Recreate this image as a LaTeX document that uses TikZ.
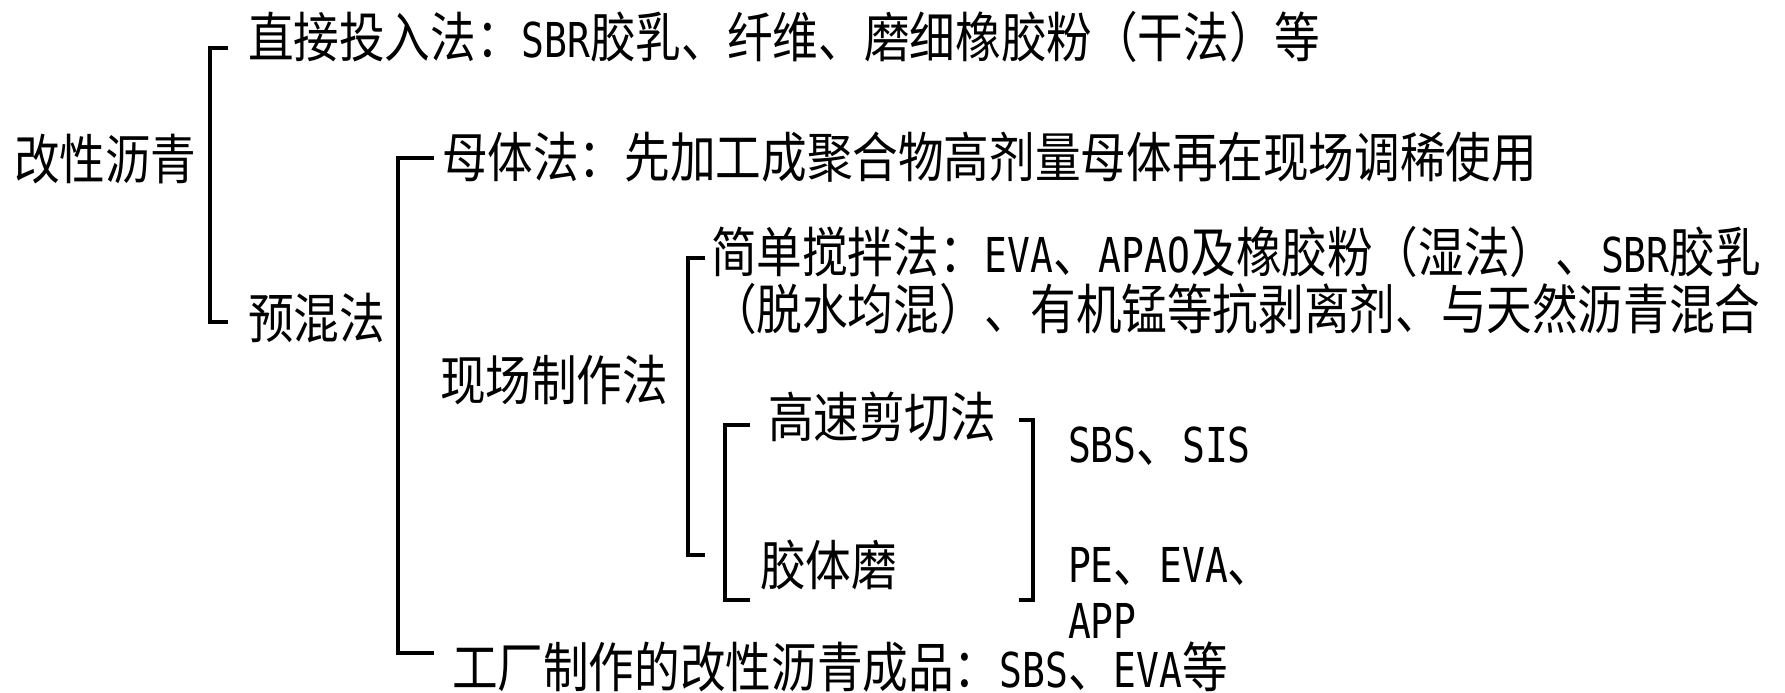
\documentclass[tikz,border=0pt]{standalone}
\usepackage{fontspec}
\newfontfamily\cjk[FakeStretch=0.845]{Noto Sans CJK SC}
\newfontfamily\latf[FakeStretch=0.79,Scale=0.89]{DejaVu Sans Mono}
\newcommand{\Lw}[1]{{\latf #1}}
\begin{document}
\begin{tikzpicture}[x=1pt,y=-1pt,
  lbl/.style={anchor=base west,inner sep=0pt,outer sep=0pt,font=\fontsize{54pt}{58pt}\cjk},
  br/.style={line width=4pt,line join=miter}]
\useasboundingbox (0,0) rectangle (1785,693);
\fill[white] (0,0) rectangle (1785,693);
% texts
\node[lbl] (root) at (14,179) {改性沥青};
\node[lbl] (direct) at (248,58) {直接投入法：\Lw{SBR}胶乳、纤维、磨细橡胶粉（干法）等};
\node[lbl] (premix) at (248,338) {预混法};
\node[lbl] (master) at (442,177) {母体法：先加工成聚合物高剂量母体再在现场调稀使用};
\node[lbl] (site) at (440,400) {现场制作法};
\node[lbl] (stir1) at (711,272) {简单搅拌法：\Lw{EVA}、\Lw{APAO}及橡胶粉（湿法）、\Lw{SBR}胶乳};
\node[lbl] (stir2) at (711,329) {（脱水均混）、有机锰等抗剥离剂、与天然沥青混合};
\node[lbl] (shear) at (768,437) {高速剪切法};
\node[lbl] (mill) at (760,585) {胶体磨};
\node[lbl] (sbs) at (1068,462) {\Lw{SBS}、\Lw{SIS}};
\node[lbl] (pe) at (1068,582) {\Lw{PE}、\Lw{EVA}、};
\node[lbl] (app) at (1068,638) {\Lw{APP}};
\node[lbl] (factory) at (452,687) {工厂制作的改性沥青成品：\Lw{SBS}、\Lw{EVA}等};
% brackets
\coordinate (b1t) at (228,48);   \coordinate (b1b) at (228,322);
\coordinate (b2t) at (434,158);  \coordinate (b2b) at (434,653);
\coordinate (b3t) at (705,258);  \coordinate (b3b) at (705,555);
\coordinate (b4t) at (750,425);  \coordinate (b4b) at (750,600);
\coordinate (b5t) at (1019,420); \coordinate (b5b) at (1019,600);
\draw[br] (b1t) -- ++(-18,0) |- (b1b);
\draw[br] (b2t) -- ++(-36,0) |- (b2b);
\draw[br] (b3t) -- ++(-17,0) |- (b3b);
\draw[br] (b4t) -- ++(-25,0) |- (b4b);
\draw[br] (b5t) -- ++(14,0) |- (b5b);
\end{tikzpicture}
\end{document}
